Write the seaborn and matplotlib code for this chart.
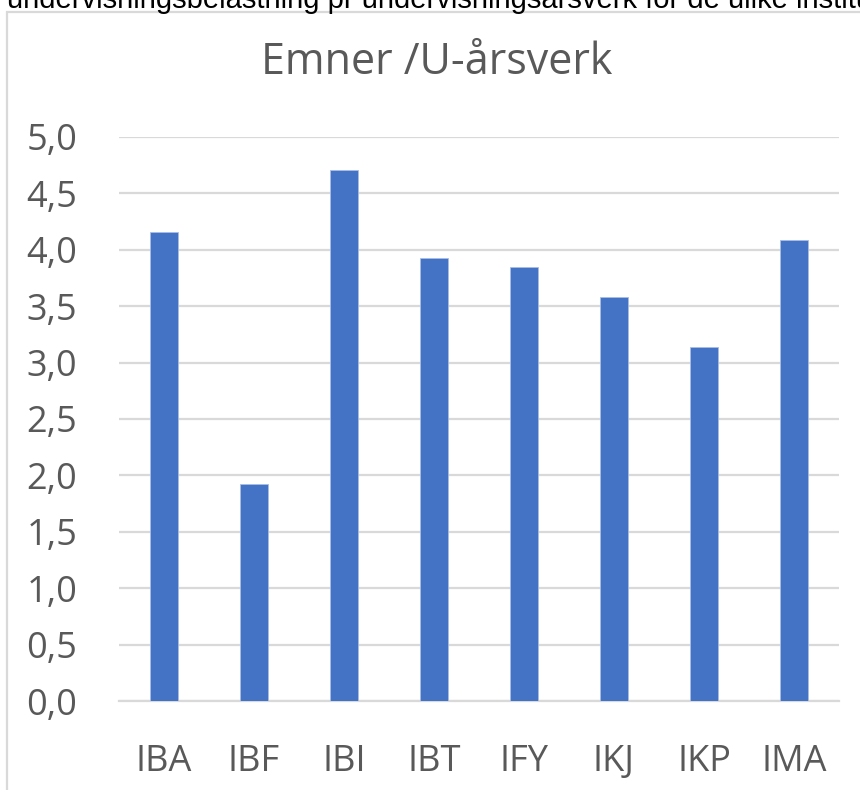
import matplotlib
matplotlib.use("Agg")
import matplotlib.pyplot as plt
import matplotlib.patches as mpatches
from matplotlib.ticker import FuncFormatter
import pandas as pd
import seaborn as sns

# data
institutes = ["IBA", "IBF", "IBI", "IBT", "IFY", "IKJ", "IKP", "IMA"]
emner_per_uarsverk = [4.16, 1.92, 4.71, 3.93, 3.85, 3.58, 3.14, 4.09]
y_ticks = [0.0, 0.5, 1.0, 1.5, 2.0, 2.5, 3.0, 3.5, 4.0, 4.5, 5.0]
title = "Emner /U-årsverk"
caption = "undervisningsbelastning pr undervisningsårsverk for de ulike instituttene"

df = pd.DataFrame({"inst": institutes, "verdi": emner_per_uarsverk})

sns.set_style("white")
plt.rcParams["font.family"] = ["Open Sans", "DejaVu Sans"]

W, H = 860, 790
fig = plt.figure(figsize=(W / 100, H / 100), dpi=100)
ax = fig.add_axes([119 / W, 89 / H, 720 / W, 564 / H])

sns.barplot(data=df, x="inst", y="verdi", color="#4472C4", saturation=1,
            width=0.31, edgecolor="#a9bde6", linewidth=0.6, ax=ax, zorder=3)

ax.set_ylim(0, 5)
ax.set_xlim(-0.5, len(institutes) - 0.5)
ax.set_yticks(y_ticks)
ax.yaxis.set_major_formatter(FuncFormatter(lambda v, p: f"{v:.1f}".replace(".", ",")))
ax.grid(axis="y", color="#d9d9d9", linewidth=1.6, zorder=0)
ax.set_axisbelow(True)
for s in ["top", "right", "left"]:
    ax.spines[s].set_visible(False)
ax.spines["bottom"].set_color("#d9d9d9")
ax.spines["bottom"].set_linewidth(1.6)
ax.tick_params(axis="both", length=0, labelsize=26, colors="#595959")
ax.tick_params(axis="y", pad=30)
ax.tick_params(axis="x", pad=31)
ax.set_xlabel("")
ax.set_ylabel("")

fig.text(437 / W, 1 - 74 / H, title, ha="center", va="baseline",
         fontsize=31, color="#595959")

# cut-off line of document text above the chart frame
fig.text(7 / W, 1 - 8 / H, caption, ha="left", va="baseline",
         fontsize=21, color="black", family="Liberation Sans")

# chart frame
fig.patches.append(mpatches.Rectangle((7 / W, -0.1), 1.2, 1 - 12 / H + 0.1,
                                      transform=fig.transFigure, fill=False,
                                      edgecolor="#d9d9d9", linewidth=1.6))

fig.savefig("out.png", dpi=100)
